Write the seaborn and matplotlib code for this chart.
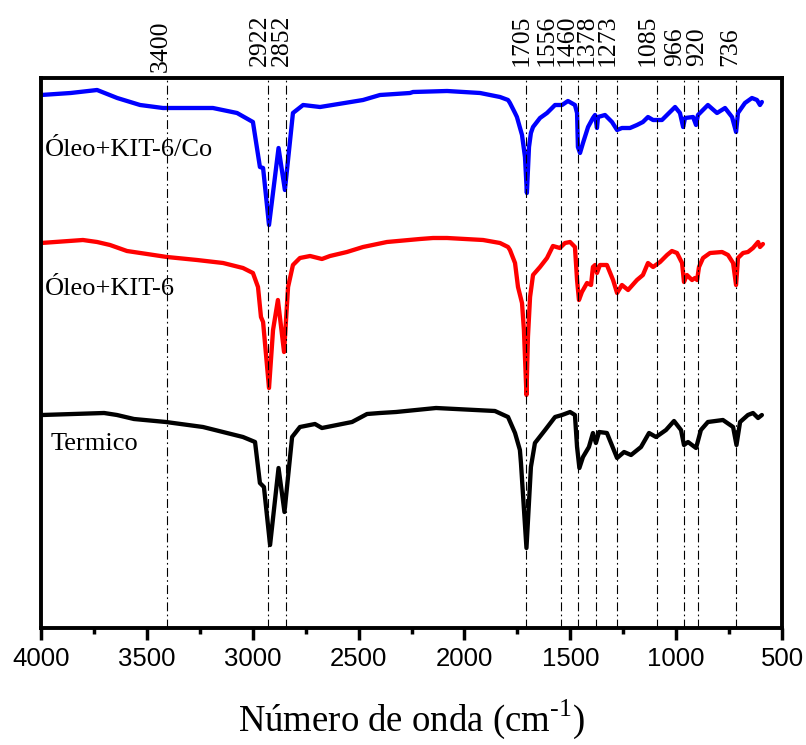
import numpy as np
import pandas as pd
import matplotlib
matplotlib.use("Agg")
import matplotlib.pyplot as plt
from matplotlib.ticker import MultipleLocator
import seaborn as sns

# ---------------- data ----------------
wn_co = [4000, 3860, 3735, 3640, 3532, 3424, 3188, 3074, 2999, 2966, 2951, 2923, 2878, 2848, 2810, 2762,
         2682, 2479, 2399, 2257, 2243, 2082, 1926, 1879, 1832, 1794, 1785, 1761, 1752, 1728,
         1714, 1705, 1695, 1686, 1676, 1643, 1610, 1572, 1539, 1511, 1478, 1468, 1464, 1454,
         1440, 1416, 1393, 1383, 1374, 1369, 1336, 1303, 1279, 1256, 1218, 1185, 1157, 1133,
         1109, 1067, 1029, 1005, 982, 967, 958, 920, 906, 897, 850, 807, 769, 736, 717, 708,
         675, 642, 618, 604, 595]
t_co = [533, 535, 538, 530, 523, 520, 520, 515, 506, 461, 460, 403, 480, 438, 515, 523,
        521, 528, 533, 535, 536, 537, 535, 533, 531, 528, 525, 515, 511, 493,
        471, 435, 481, 495, 501, 510, 515, 523, 523, 527, 523, 515, 481, 475,
        485, 501, 510, 513, 500, 511, 513, 506, 498, 500, 500, 503, 506, 511,
        508, 508, 516, 521, 515, 501, 510, 511, 503, 513, 523, 515, 520, 511, 496, 515,
        525, 530, 528, 523, 526]

wn_kit = [4000, 3802, 3735, 3674, 3594, 3499, 3405, 3263, 3140, 3046, 2999, 2975, 2961, 2951,
          2923, 2904, 2881, 2852, 2833, 2810, 2777, 2729, 2673, 2635, 2555, 2479, 2366, 2210,
          2148, 2082, 1912, 1832, 1794, 1785, 1761, 1747, 1728, 1719, 1707, 1700, 1690, 1676,
          1643, 1610, 1582, 1549, 1525, 1501, 1478, 1468, 1459, 1445, 1421, 1402, 1393, 1383,
          1374, 1360, 1327, 1298, 1279, 1256, 1227, 1185, 1157, 1133, 1109, 1076, 1043, 1020,
          996, 972, 963, 949, 925, 911, 901, 892, 873, 840, 783, 755, 731, 717, 708, 684,
          661, 637, 613, 604, 590]
t_kit = [385, 388, 386, 383, 377, 374, 371, 368, 365, 360, 355, 341, 311, 306,
         240, 298, 328, 276, 341, 363, 370, 372, 369, 372, 376, 381, 386, 389,
         390, 390, 388, 385, 381, 378, 365, 341, 325, 298, 233, 291, 331, 353,
         361, 370, 382, 380, 385, 386, 381, 348, 328, 336, 345, 343, 361, 363,
         355, 363, 363, 348, 335, 343, 338, 348, 353, 365, 361, 366, 373, 377,
         375, 365, 346, 353, 348, 350, 348, 361, 370, 375, 376, 373, 365, 343, 370, 375,
         376, 380, 386, 381, 384]

wn_term = [3995, 3702, 3641, 3561, 3410, 3235, 3046, 2989, 2966, 2947, 2918, 2878, 2850, 2814,
           2777, 2706, 2673, 2602, 2531, 2460, 2399, 2323, 2134, 1856, 1794, 1761, 1738, 1733,
           1707, 1686, 1667, 1619, 1572, 1539, 1501, 1478, 1468, 1457, 1440, 1412, 1393, 1379,
           1364, 1327, 1279, 1246, 1213, 1166, 1128, 1095, 1048, 1010, 977, 963, 944, 906,
           883, 850, 779, 731, 715, 698, 661, 637, 613, 595]
t_term = [213, 215, 213, 209, 206, 201, 191, 186, 145, 141, 83, 160, 116, 191,
          201, 204, 200, 203, 206, 214, 215, 216, 220, 217, 211, 195, 178, 165,
          80, 161, 185, 198, 211, 213, 216, 213, 181, 160, 171, 181, 195, 185,
          196, 195, 170, 176, 173, 181, 195, 191, 198, 207, 198, 183, 186, 180,
          198, 206, 208, 201, 183, 206, 213, 215, 210, 213]

series_names = ["Óleo+KIT-6/Co", "Óleo+KIT-6", "Termico"]
series_colors = ["#0000ff", "#ff0000", "#000000"]

peak_labels = ["3400", "2922", "2852", "1705", "1556", "1460", "1378", "1273",
               "1085", "966", "920", "736"]
peak_lines = [3406, 2928, 2844, 1709, 1544, 1464, 1379, 1279, 1090, 963, 897, 715]

# ---------------- layout ----------------
label_x = [3433, 2966, 2862, 1728, 1610, 1516, 1421, 1322, 1133, 1005, 902, 746]
label_y = [1.011, 1.022, 1.022, 1.022, 1.022, 1.022, 1.022, 1.022, 1.022, 1.022, 1.022, 1.022]
name_pos = [(3981, 472), (3981, 333), (3957, 178)]

df = pd.concat([
    pd.DataFrame({"wn": wn_co, "val": t_co, "serie": series_names[0]}),
    pd.DataFrame({"wn": wn_kit, "val": t_kit, "serie": series_names[1]}),
    pd.DataFrame({"wn": wn_term, "val": t_term, "serie": series_names[2]}),
], ignore_index=True)

sns.set_style("ticks")
plt.rcParams["font.family"] = ["Liberation Serif", "DejaVu Serif"]
plt.rcParams["mathtext.fontset"] = "custom"
plt.rcParams["mathtext.rm"] = "Liberation Serif"
for k in ["text.color", "axes.labelcolor", "xtick.color", "ytick.color", "axes.edgecolor"]:
    plt.rcParams[k] = "black"

fig = plt.figure(figsize=(8.06, 7.45), dpi=100)
ax = fig.add_axes([41 / 806, (745 - 628) / 745, 741 / 806, 550 / 745])

sns.lineplot(data=df, x="wn", y="val", hue="serie",
             palette=dict(zip(series_names, series_colors)),
             hue_order=series_names, sort=False, estimator=None,
             lw=3.1, legend=False, ax=ax)

for xl in peak_lines:
    ax.axvline(xl, color="black", lw=0.8, ls=(0, (8, 3, 1.5, 3)), zorder=3)

trans = ax.get_xaxis_transform()
for lab, lx, ly in zip(peak_labels, label_x, label_y):
    ax.text(lx, ly, lab, transform=trans, rotation=90, ha="center", va="bottom",
            fontsize=18.5, family="Liberation Serif", color="black")

for name, (nx, ny) in zip(series_names, name_pos):
    ax.text(nx, ny, name, ha="left", va="baseline", fontsize=19,
            family="Liberation Serif", color="black")

ax.set_xlim(4000, 500)
ax.set_ylim(0, 550)
ax.set_yticks([])
ax.set_ylabel("")
ax.xaxis.set_major_locator(MultipleLocator(500))
ax.xaxis.set_minor_locator(MultipleLocator(250))
ax.tick_params(axis="x", which="major", direction="out", length=8.5, width=2.5,
               labelsize=18.5, pad=5, colors="black")
ax.tick_params(axis="x", which="minor", direction="out", length=4, width=2.5,
               colors="black")
for lab in ax.get_xticklabels():
    lab.set_family("Liberation Sans")
for sp in ax.spines.values():
    sp.set_linewidth(2.8)
    sp.set_color("black")
    sp.set_visible(True)

ax.set_xlabel("Número de onda (cm$^{\\text{-1}}$)", fontsize=26.5,
              family="Liberation Serif", labelpad=19, color="black")

fig.savefig("out.png", dpi=100)
